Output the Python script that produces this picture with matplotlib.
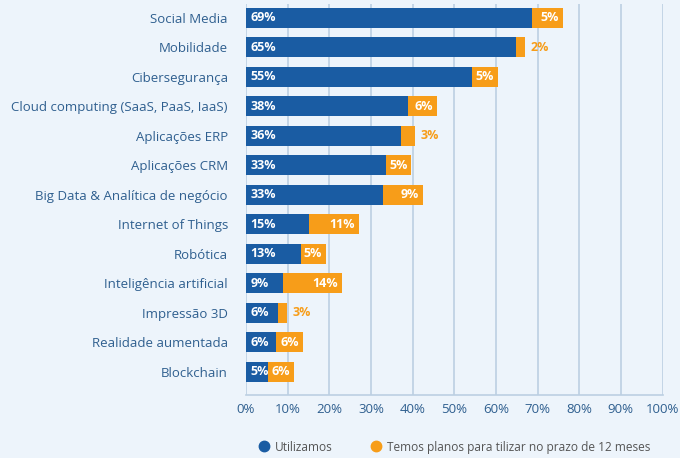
import matplotlib.pyplot as plt
from matplotlib.lines import Line2D

# data
categories = ['Social Media', 'Mobilidade', 'Cibersegurança',
              'Cloud computing (SaaS, PaaS, IaaS)', 'Aplicações ERP',
              'Aplicações CRM', 'Big Data & Analítica de negócio',
              'Internet of Things', 'Robótica', 'Inteligência artificial',
              'Impressão 3D', 'Realidade aumentada', 'Blockchain']
# percentages printed on the bars
using = [69, 65, 55, 38, 36, 33, 33, 15, 13, 9, 6, 6, 5]
planned = [5, 2, 5, 6, 3, 5, 9, 11, 5, 14, 3, 6, 6]
# bar lengths as drawn in the picture (segments widened to fit labels)
using_len = [68.6, 64.9, 54.2, 38.9, 37.3, 33.6, 32.9, 15.1, 13.2, 8.9, 7.7, 7.2, 5.3]
planned_len = [7.5, 2.1, 6.3, 7.0, 3.2, 6.1, 9.6, 12.0, 6.0, 14.1, 2.1, 6.5, 6.2]
ticks = [0, 10, 20, 30, 40, 50, 60, 70, 80, 90, 100]
tick_labels = [f'{t}%' for t in ticks]
legend_labels = ['Utilizamos', 'Temos planos para tilizar no prazo de 12 meses']

BLUE = '#1a5ca3'
ORANGE = '#f79d19'
BG = '#edf4fb'
GRID = '#bccfe2'
TXT = '#2f5f8f'

plt.rcParams['font.family'] = ['Open Sans', 'DejaVu Sans']

fig = plt.figure(figsize=(6.8, 4.58), dpi=100, facecolor=BG)
ax = fig.add_axes([0.3618, 0.1376, 0.6125, 0.8537], facecolor=BG)

y = list(range(len(categories)))
ax.barh(y, using_len, height=0.68, color=BLUE, zorder=3)
ax.barh(y, planned_len, left=using_len, height=0.68, color=ORANGE, zorder=3)

for i in y:
    ax.text(1.0, i, f'{using[i]}%', color='white',
            fontsize=9, fontweight='bold', va='center', ha='left', zorder=4)
    end = using_len[i] + planned_len[i]
    if planned[i] >= 5:
        ax.text(end - 0.9, i, f'{planned[i]}%', color='white',
                fontsize=9, fontweight='bold', va='center', ha='right', zorder=4)
    else:
        ax.text(end + 1.3, i, f'{planned[i]}%', color=ORANGE,
                fontsize=9, fontweight='bold', va='center', ha='left', zorder=4)

ax.set_xlim(0, 100)
ax.set_ylim(12.78, -0.47)
ax.set_xticks(ticks)
ax.set_xticklabels(tick_labels)
ax.set_yticks(y)
ax.set_yticklabels(categories)
ax.tick_params(axis='both', length=0, labelsize=9.5, colors=TXT)
ax.tick_params(axis='y', pad=13)
ax.tick_params(axis='x', pad=6)
ax.grid(axis='x', color=GRID, linewidth=1.2, zorder=0)
for s in ['top', 'right', 'left']:
    ax.spines[s].set_visible(False)
ax.spines['bottom'].set_color(GRID)
ax.spines['bottom'].set_linewidth(1.2)

handles = [Line2D([], [], marker='o', linestyle='', markersize=7.5, color=BLUE),
           Line2D([], [], marker='o', linestyle='', markersize=7.5, color=ORANGE)]
fig.legend(handles, legend_labels, loc='center', bbox_to_anchor=(0.669, 0.024),
           ncol=2, frameon=False, fontsize=8.6, labelcolor='#555555',
           handlelength=0.8, handletextpad=0.5, columnspacing=3.2)

fig.savefig('out.png', dpi=100, facecolor=BG)
